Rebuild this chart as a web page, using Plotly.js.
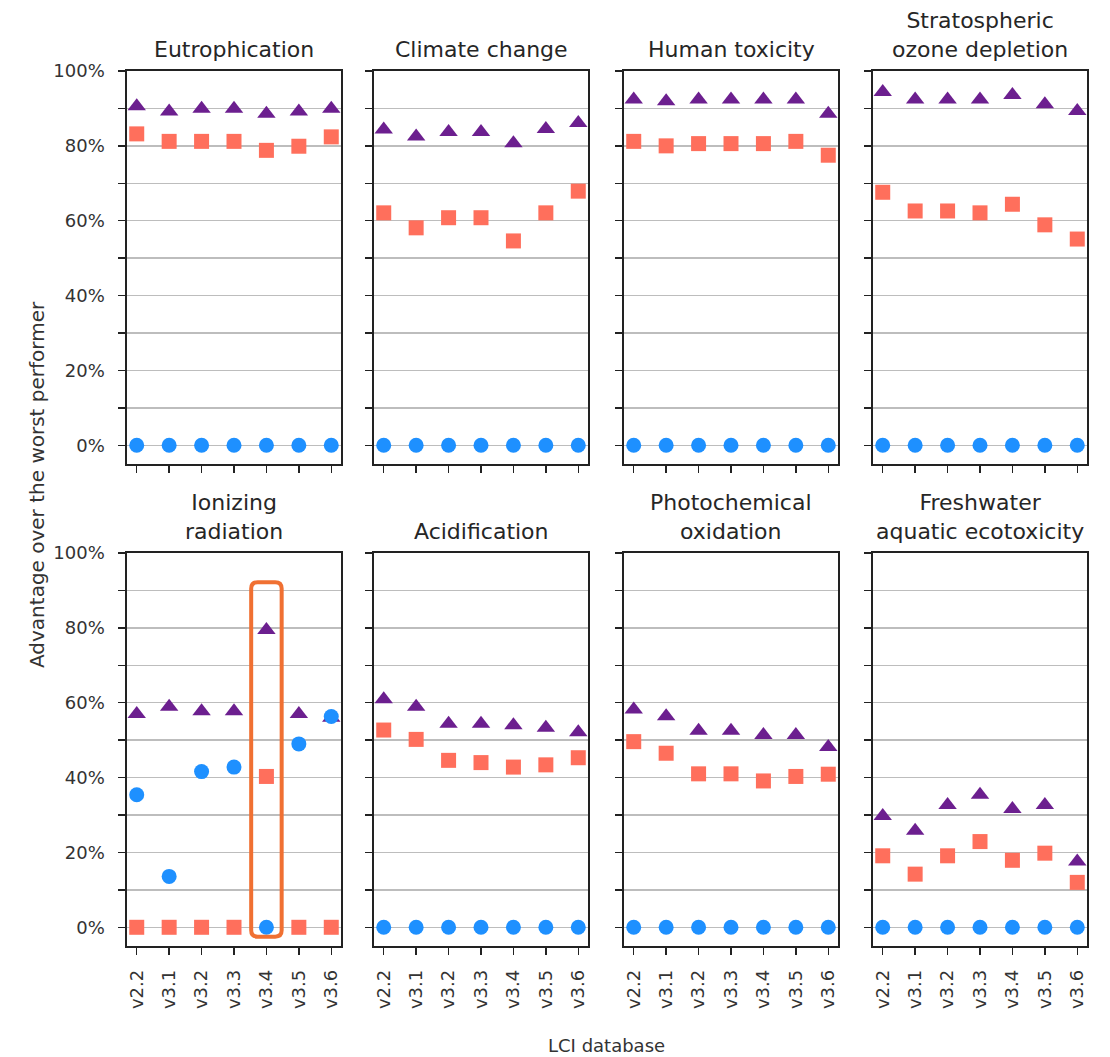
<!DOCTYPE html>
<html>
<head>
<meta charset="utf-8">
<script src="https://cdn.plot.ly/plotly-3.0.1.min.js"></script>
<style>
  html, body { margin: 0; padding: 0; background: #fff; }
  #chart { width: 1110px; height: 1057px; }
</style>
</head>
<body>
<div id="chart"></div>
<script>
// ---------- data ----------
const categories = ['v2.2', 'v3.1', 'v3.2', 'v3.3', 'v3.4', 'v3.5', 'v3.6'];

const panelTitles = [
  'Eutrophication',
  'Climate change',
  'Human toxicity',
  'Stratospheric<br>ozone depletion',
  'Ionizing<br>radiation',
  'Acidification',
  'Photochemical<br>oxidation',
  'Freshwater<br>aquatic ecotoxicity'
];

// one row per panel, one value (%) per category
const triangleValues = [
  [90.6, 89.2, 89.9, 89.9, 88.6, 89.2, 89.9],
  [84.4, 82.5, 83.7, 83.7, 80.7, 84.5, 86.1],
  [92.4, 91.9, 92.4, 92.4, 92.4, 92.4, 88.6],
  [94.4, 92.4, 92.4, 92.4, 93.6, 91.1, 89.3],
  [57.0, 58.9, 57.7, 57.7, 79.4, 57.0, 56.0],
  [60.9, 58.9, 54.4, 54.4, 54.0, 53.3, 52.1],
  [58.2, 56.4, 52.5, 52.5, 51.4, 51.4, 48.2],
  [29.7, 25.8, 32.7, 35.4, 31.6, 32.7, 17.6]
];

const squareValues = [
  [83.2, 81.2, 81.2, 81.2, 78.8, 79.9, 82.4],
  [62.1, 58.1, 60.8, 60.8, 54.6, 62.1, 67.9],
  [81.2, 80.0, 80.6, 80.6, 80.6, 81.2, 77.5],
  [67.6, 62.6, 62.6, 62.1, 64.4, 58.9, 55.1],
  [0, 0, 0, 0, 40.3, 0, 0],
  [52.7, 50.2, 44.6, 44.0, 42.8, 43.4, 45.3],
  [49.6, 46.5, 41.0, 41.0, 39.1, 40.3, 40.9],
  [19.1, 14.2, 19.1, 22.9, 17.9, 19.8, 12.0]
];

const circleValues = [
  [0, 0, 0, 0, 0, 0, 0],
  [0, 0, 0, 0, 0, 0, 0],
  [0, 0, 0, 0, 0, 0, 0],
  [0, 0, 0, 0, 0, 0, 0],
  [35.4, 13.6, 41.6, 42.8, 0, 49.0, 56.3],
  [0, 0, 0, 0, 0, 0, 0],
  [0, 0, 0, 0, 0, 0, 0],
  [0, 0, 0, 0, 0, 0, 0]
];

const yTickVals = [0, 10, 20, 30, 40, 50, 60, 70, 80, 90, 100];
const yTickText = ['0%', '', '20%', '', '40%', '', '60%', '', '80%', '', '100%'];

const yAxisTitle = 'Advantage over the worst performer';
const xAxisTitle = 'LCI database';

// highlighted column: panel index and category
const highlightPanel = 4;
const highlightCategory = 'v3.4';

// ---------- layout geometry (pixels) ----------
const W = 1110, H = 1057;
const colLeft = [127, 374, 624, 873];
const colWidth = 214;
const rowTop = [71, 553];
const rowHeight = 393;

const FONT = 'DejaVu Sans, Liberation Sans, sans-serif';
const TXT = '#333333';
const COL_TRI = '#6C1F8F';
const COL_SQ = '#FF6F5C';
const COL_CIR = '#1E90FF';

const traces = [];
const layout = {
  width: W, height: H, autosize: false,
  margin: { l: 0, r: 0, t: 0, b: 0, pad: 0 },
  paper_bgcolor: '#ffffff', plot_bgcolor: '#ffffff',
  showlegend: false,
  font: { family: FONT, color: TXT, size: 18 },
  annotations: [],
  shapes: []
};

for (let p = 0; p < 8; p++) {
  const row = Math.floor(p / 4), col = p % 4;
  const n = p + 1;
  const xa = 'x' + (n === 1 ? '' : n), ya = 'y' + (n === 1 ? '' : n);
  const xKey = 'xaxis' + (n === 1 ? '' : n), yKey = 'yaxis' + (n === 1 ? '' : n);

  const x0 = colLeft[col] / W, x1 = (colLeft[col] + colWidth) / W;
  const yTopPx = rowTop[row], yBotPx = rowTop[row] + rowHeight;

  layout[xKey] = {
    domain: [x0, x1],
    anchor: ya,
    type: 'category',
    categoryorder: 'array',
    categoryarray: categories,
    range: [-0.3, 6.3],
    showgrid: false,
    zeroline: false,
    showline: true, mirror: true, linecolor: '#222', linewidth: 1.6,
    ticks: 'outside', ticklen: 7, tickwidth: 1.4, tickcolor: '#222',
    showticklabels: row === 1,
    tickangle: -90,
    ticklabelstandoff: 8,
    tickfont: { family: FONT, size: 18, color: TXT },
    fixedrange: true
  };
  layout[yKey] = {
    domain: [1 - yBotPx / H, 1 - yTopPx / H],
    anchor: xa,
    range: [-5, 100],
    tickmode: 'array',
    tickvals: yTickVals,
    ticktext: yTickText,
    showgrid: true, gridcolor: '#bdbdbd', gridwidth: 1.5,
    zeroline: false,
    showline: true, mirror: true, linecolor: '#222', linewidth: 1.6,
    ticks: 'outside', ticklen: 7, tickwidth: 1.4, tickcolor: '#222',
    showticklabels: col === 0,
    ticklabelstandoff: 10,
    tickfont: { family: FONT, size: 18, color: TXT },
    fixedrange: true
  };

  traces.push({
    type: 'scatter', mode: 'markers', xaxis: xa, yaxis: ya,
    x: categories, y: triangleValues[p],
    marker: { symbol: 'triangle-up', size: 16, color: COL_TRI, line: { width: 0 } },
    cliponaxis: true, hoverinfo: 'skip'
  });
  traces.push({
    type: 'scatter', mode: 'markers', xaxis: xa, yaxis: ya,
    x: categories, y: squareValues[p],
    marker: { symbol: 'square', size: 15, color: COL_SQ, line: { width: 0 } },
    cliponaxis: true, hoverinfo: 'skip'
  });
  traces.push({
    type: 'scatter', mode: 'markers', xaxis: xa, yaxis: ya,
    x: categories, y: circleValues[p],
    marker: { symbol: 'circle', size: 15, color: COL_CIR, line: { width: 0 } },
    cliponaxis: true, hoverinfo: 'skip'
  });

  layout.annotations.push({
    text: panelTitles[p],
    xref: xa + ' domain', yref: ya + ' domain',
    x: 0.5, y: 1, xanchor: 'center', yanchor: 'bottom',
    yshift: 7, showarrow: false,
    font: { family: FONT, size: 22, color: '#262626' }
  });
}

// axis titles
layout.annotations.push({
  text: yAxisTitle, xref: 'paper', yref: 'paper',
  x: 37 / W, y: 1 - 485 / H, xanchor: 'center', yanchor: 'middle',
  textangle: -90, showarrow: false,
  font: { family: FONT, size: 20, color: TXT }
});
layout.annotations.push({
  text: xAxisTitle, xref: 'paper', yref: 'paper',
  x: 606 / W, y: 1 - 1045 / H, xanchor: 'center', yanchor: 'middle',
  showarrow: false,
  font: { family: FONT, size: 18, color: TXT }
});

// rounded highlight box around the highlighted category
(function () {
  const n = highlightPanel + 1;
  const ci = categories.indexOf(highlightCategory);
  const hx0 = ci - 0.47, hx1 = ci + 0.47;
  const hy0 = -2.5, hy1 = 92.2;
  const rx = 0.2, ry = 1.7;
  const path =
    'M' + (hx0 + rx) + ',' + hy0 +
    ' L' + (hx1 - rx) + ',' + hy0 +
    ' Q' + hx1 + ',' + hy0 + ' ' + hx1 + ',' + (hy0 + ry) +
    ' L' + hx1 + ',' + (hy1 - ry) +
    ' Q' + hx1 + ',' + hy1 + ' ' + (hx1 - rx) + ',' + hy1 +
    ' L' + (hx0 + rx) + ',' + hy1 +
    ' Q' + hx0 + ',' + hy1 + ' ' + hx0 + ',' + (hy1 - ry) +
    ' L' + hx0 + ',' + (hy0 + ry) +
    ' Q' + hx0 + ',' + hy0 + ' ' + (hx0 + rx) + ',' + hy0 + ' Z';
  layout.shapes.push({
    type: 'path', path: path,
    xref: 'x' + n, yref: 'y' + n,
    line: { color: '#F07032', width: 4 },
    fillcolor: 'rgba(0,0,0,0)',
    layer: 'above'
  });
})();

Plotly.newPlot('chart', traces, layout, { staticPlot: true, displayModeBar: false });
</script>
</body>
</html>
